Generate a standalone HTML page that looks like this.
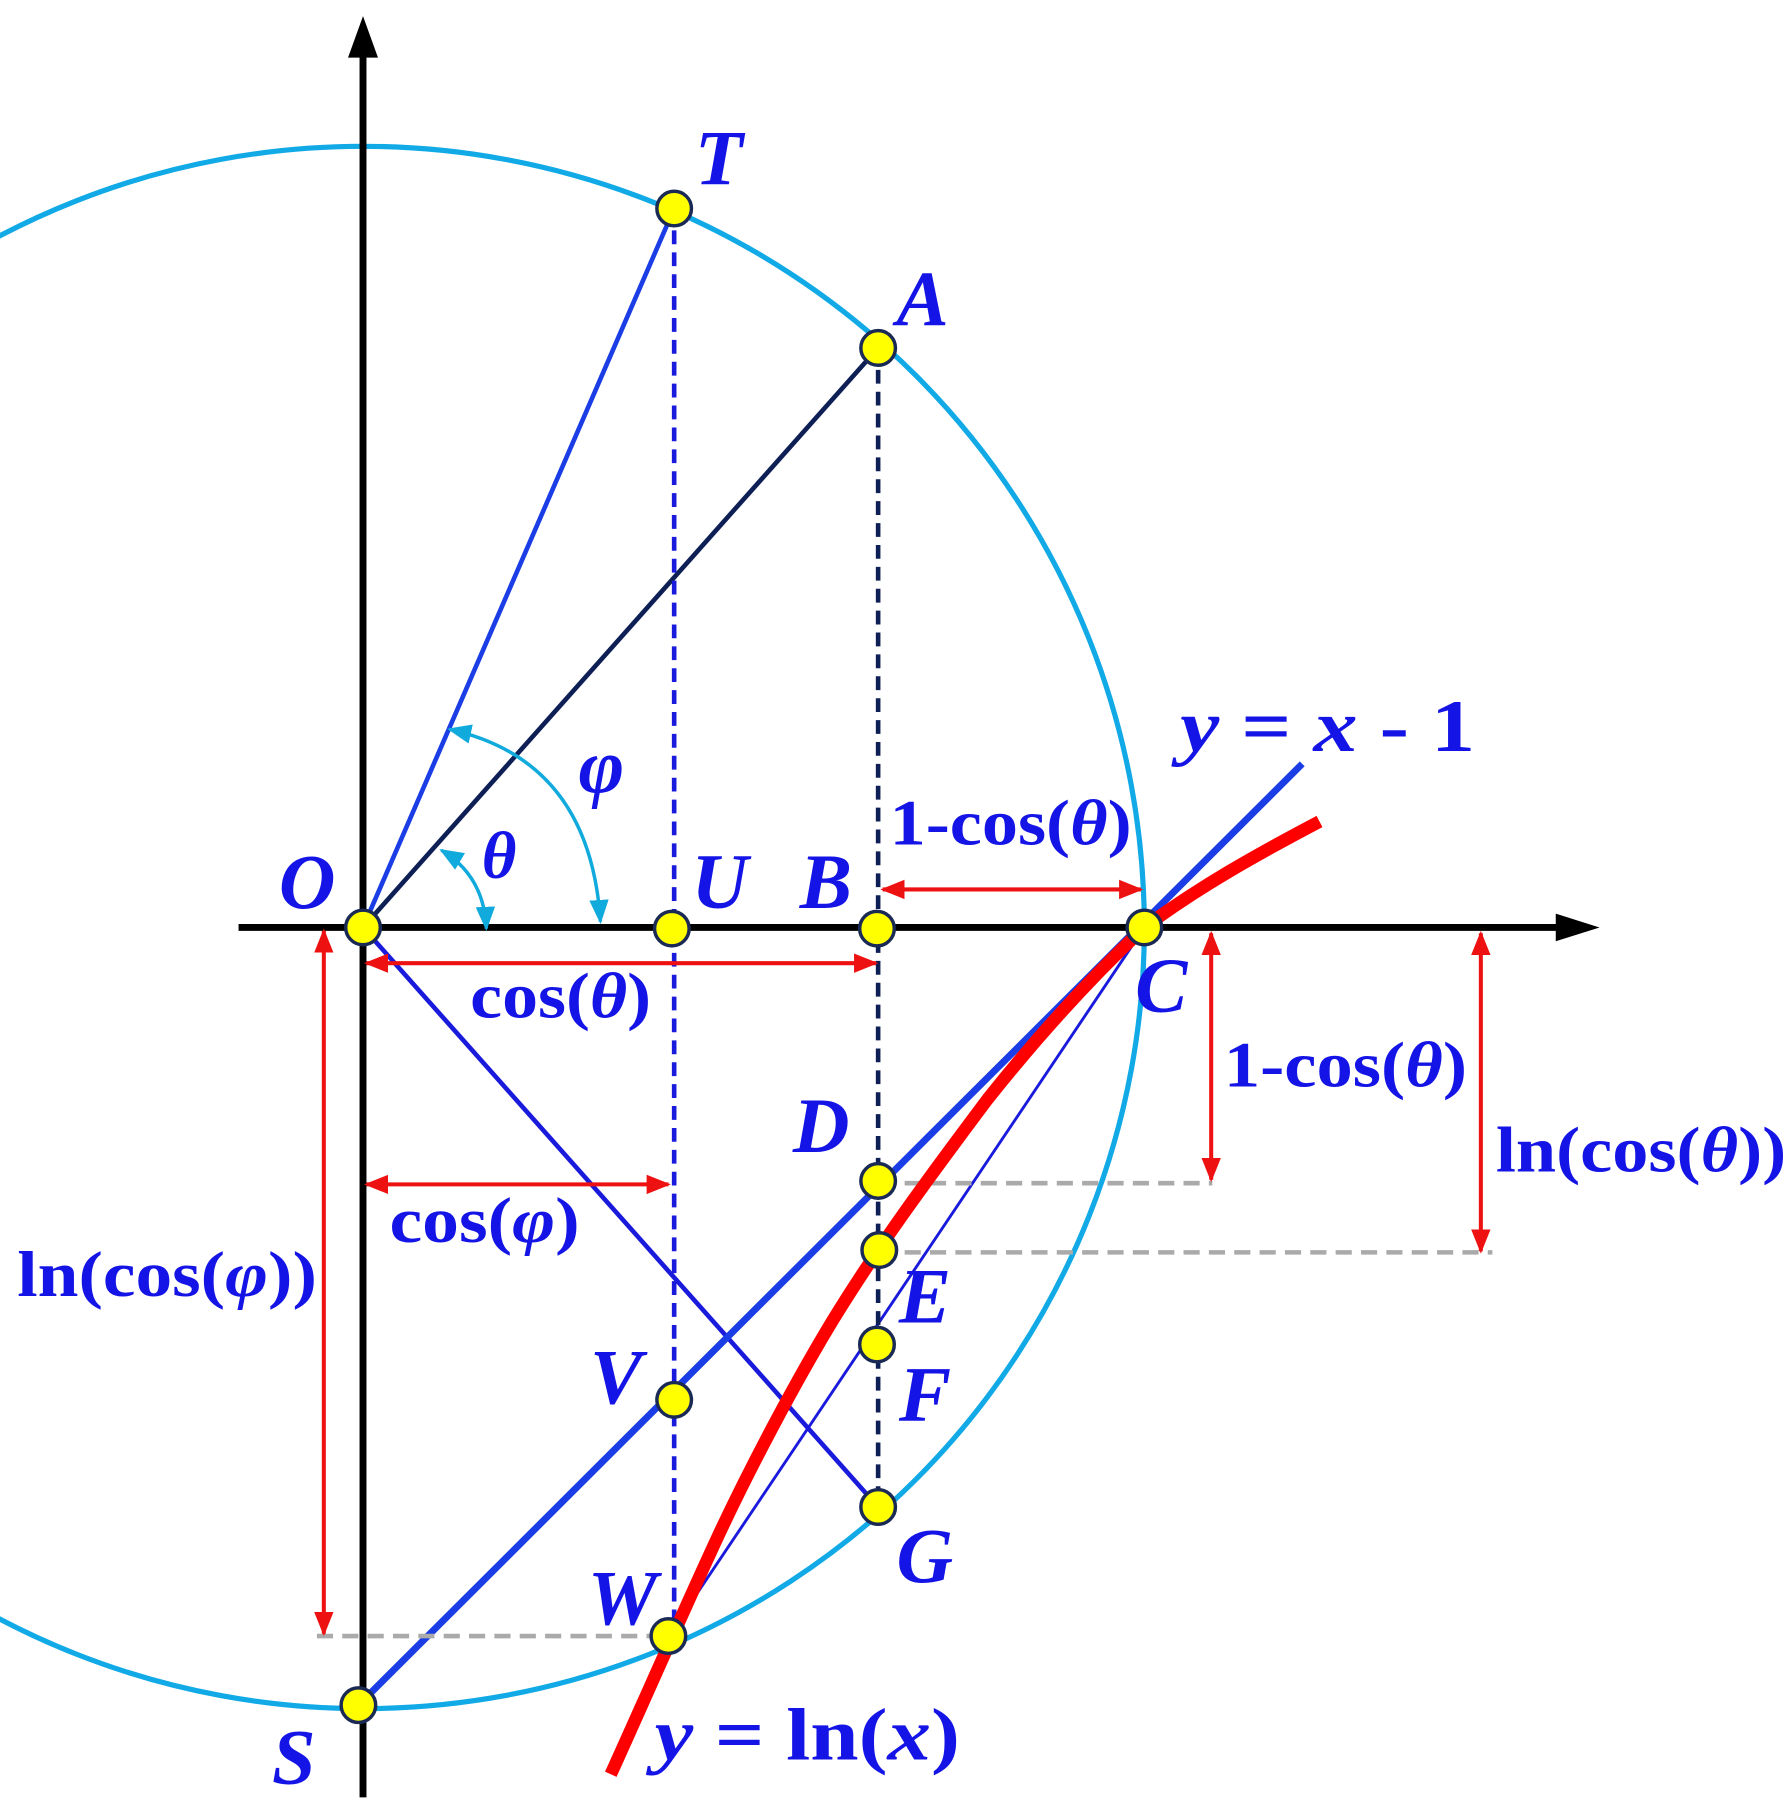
<!DOCTYPE html>
<html><head><meta charset="utf-8"><style>html,body{margin:0;padding:0;background:#fff}svg{display:block}
text{font-family:"Liberation Serif",serif;font-weight:bold;fill:#1414e6}
.it{font-style:italic}</style></head><body>
<svg width="1792" height="1810" viewBox="0 0 1555 1571" preserveAspectRatio="none" xmlns="http://www.w3.org/2000/svg">
<defs>
<marker id="ar" viewBox="0 0 10 10" refX="9" refY="5" markerWidth="6" markerHeight="6" orient="auto-start-reverse"><path d="M0,1 L10,5 L0,9 z" fill="#ee1111"/></marker>
<marker id="ac" viewBox="0 0 10 10" refX="9" refY="5" markerWidth="7" markerHeight="7" orient="auto-start-reverse"><path d="M0,1 L10,5 L0,9 z" fill="#11aadd"/></marker>
</defs>
<circle cx="315" cy="805" r="678" fill="none" stroke="#11aae6" stroke-width="4.5"/>
<line x1="315" y1="1560" x2="315" y2="45" stroke="#000" stroke-width="6"/>
<path d="M315,14 L302,50 L328,50 z" fill="#000"/>
<line x1="207" y1="805" x2="1355" y2="805" stroke="#000" stroke-width="6"/>
<path d="M1388,805 L1350,793 L1350,817 z" fill="#000"/>
<line x1="315" y1="805" x2="585" y2="181" stroke="#1a3de6" stroke-width="4"/>
<line x1="315" y1="805" x2="762" y2="302" stroke="#0d1f55" stroke-width="4"/>
<line x1="315" y1="805" x2="762" y2="1308" stroke="#1a1adc" stroke-width="4"/>
<line x1="993" y1="805" x2="580" y2="1420" stroke="#1a1adc" stroke-width="2.5"/>
<line x1="311" y1="1480" x2="1130" y2="663" stroke="#1a3de6" stroke-width="6"/>
<line x1="585" y1="181" x2="585" y2="1420" stroke="#1a1adc" stroke-width="4" stroke-dasharray="12,7"/>
<line x1="762" y1="302" x2="762" y2="1308" stroke="#0d1f55" stroke-width="4" stroke-dasharray="12,7"/>
<g stroke="#aaaaaa" stroke-width="4" stroke-dasharray="14,8">
<line x1="785" y1="1027" x2="1052" y2="1027"/>
<line x1="785" y1="1087" x2="1295" y2="1087"/>
<line x1="275" y1="1420" x2="580" y2="1420"/>
</g>
<path d="M530,1540 C555,1485 590,1405 620,1340 C650,1275 690,1200 722,1147 C760,1085 800,1030 857,954 C900,900 945,850 993,805 C1040,770 1090,742 1145,713" fill="none" stroke="#ff0000" stroke-width="11"/>
<g stroke="#ee1111" stroke-width="3.5" marker-start="url(#ar)" marker-end="url(#ar)">
<line x1="766" y1="772" x2="990" y2="772"/>
<line x1="318" y1="836" x2="760" y2="836"/>
<line x1="318" y1="1028" x2="580" y2="1028"/>
<line x1="1051" y1="810" x2="1051" y2="1024"/>
<line x1="1285" y1="810" x2="1285" y2="1086"/>
<line x1="281" y1="808" x2="281" y2="1418"/>
</g>
<path d="M383,738 Q420,760 422,806" fill="none" stroke="#11aadd" stroke-width="3" marker-start="url(#ac)" marker-end="url(#ac)"/>
<path d="M390,633 Q512,660 521,800" fill="none" stroke="#11aadd" stroke-width="3" marker-start="url(#ac)" marker-end="url(#ac)"/>
<g fill="#ffff00" stroke="#1a2a55" stroke-width="3">
<circle cx="585" cy="181" r="15"/><circle cx="762" cy="302" r="15"/>
<circle cx="315" cy="805" r="15"/><circle cx="583" cy="806" r="15"/><circle cx="761" cy="806" r="15"/><circle cx="993" cy="805" r="15"/>
<circle cx="762" cy="1025" r="15"/><circle cx="763" cy="1085" r="15"/><circle cx="761" cy="1167" r="15"/><circle cx="762" cy="1308" r="15"/>
<circle cx="585" cy="1215" r="15"/><circle cx="580" cy="1420" r="15"/><circle cx="311" cy="1480" r="15"/>
</g>
<g font-size="68">
<text x="603" y="160" class="it">T</text>
<text x="778" y="282" class="it">A</text>
<text x="242" y="788" class="it">O</text>
<text x="600" y="788" class="it">U</text>
<text x="694" y="788" class="it">B</text>
<text x="985" y="878" class="it">C</text>
<text x="688" y="1000" class="it">D</text>
<text x="780" y="1148" class="it">E</text>
<text x="780" y="1233" class="it">F</text>
<text x="778" y="1373" class="it">G</text>
<text x="512" y="1218" class="it">V</text>
<text x="510" y="1410" class="it">W</text>
<text x="236" y="1548" class="it">S</text>
<text x="502" y="688" class="it">φ</text>
<text x="418" y="762" class="it" font-size="58">θ</text>
</g>
<text x="1024" y="652" font-size="64" textLength="256" lengthAdjust="spacingAndGlyphs"><tspan class="it">y</tspan> = <tspan class="it">x</tspan> - 1</text>
<text x="568" y="1527" font-size="64" textLength="265" lengthAdjust="spacingAndGlyphs"><tspan class="it">y</tspan> = ln(<tspan class="it">x</tspan>)</text>
<text x="772" y="733" font-size="56" textLength="210" lengthAdjust="spacingAndGlyphs">1-cos(<tspan class="it">θ</tspan>)</text>
<text x="408" y="883" font-size="56" textLength="157" lengthAdjust="spacingAndGlyphs">cos(<tspan class="it">θ</tspan>)</text>
<text x="1062" y="943" font-size="56" textLength="211" lengthAdjust="spacingAndGlyphs">1-cos(<tspan class="it">θ</tspan>)</text>
<text x="1298" y="1017" font-size="56" textLength="252" lengthAdjust="spacingAndGlyphs">ln(cos(<tspan class="it">θ</tspan>))</text>
<text x="338" y="1078" font-size="56" textLength="165" lengthAdjust="spacingAndGlyphs">cos(<tspan class="it">φ</tspan>)</text>
<text x="15" y="1125" font-size="56" textLength="260" lengthAdjust="spacingAndGlyphs">ln(cos(<tspan class="it">φ</tspan>))</text>
</svg>
</body></html>
